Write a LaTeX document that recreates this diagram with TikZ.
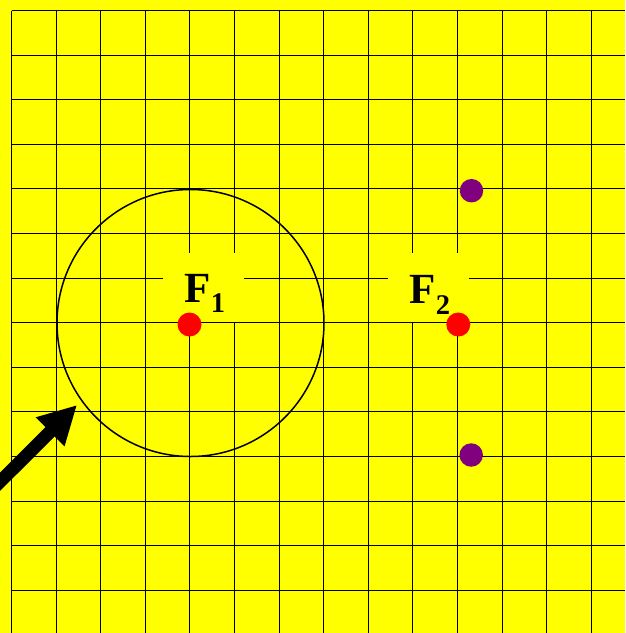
\documentclass[tikz,border=0pt]{standalone}
\usepackage{fontspec}
\setmainfont{Liberation Serif}
\definecolor{bgyellow}{RGB}{255,255,0}
\definecolor{focusred}{RGB}{255,0,0}
\definecolor{vpurple}{RGB}{128,0,128}
\begin{document}
\begin{tikzpicture}[x=1pt,y=-1pt,
  gridline/.style={black,line width=1pt},
  labelbox/.style={fill=bgyellow},
  focus/.style={circle,fill=focusred,inner sep=0pt,minimum size=24pt},
  vertexdot/.style={circle,fill=vpurple,inner sep=0pt,minimum size=23.5pt},
  flabel/.style={inner sep=0pt,anchor=base west,font=\fontsize{43}{43}\selectfont\bfseries},
  bigarrow/.style={line width=13pt,-{Triangle[length=38pt,width=38pt]}}
]
\usetikzlibrary{arrows.meta}
\useasboundingbox (0,0) rectangle (625,633);
\fill[bgyellow] (0,0) rectangle (625,633);
\begin{scope}
\clip (0,0) rectangle (625,633);
% grid
\foreach \i in {0,...,13} {
  \draw[gridline] ({11.5+44.6*\i},10.5) -- ({11.5+44.6*\i},633);
  \draw[gridline] (11.5,{10.5+44.6*\i}) -- (625,{10.5+44.6*\i});
}
% label backgrounds
\fill[labelbox] (163,253) rectangle (244,321.8);
\fill[labelbox] (388,253) rectangle (469,322);
% circle
\node[draw,circle,line width=1.5pt,inner sep=0pt,minimum size=267pt] (C) at (190.5,323) {};
% foci
\node[focus] (P1) at (189.5,324.5) {};
\node[focus] (P2) at (458.3,324.5) {};
% vertices
\node[vertexdot] (V1) at (471.5,190.7) {};
\node[vertexdot] (V2) at (471.2,455) {};
% labels
\node[flabel] (F1) at (184.3,302.5) {F\raisebox{-10pt}{\fontsize{28.5}{28.5}\selectfont 1}};
\node[flabel] (F2) at (409.3,303) {F\raisebox{-11pt}{\fontsize{28.5}{28.5}\selectfont 2}};
% arrow
\coordinate (A0) at (-20,501.7);
\coordinate (A1) at (77,405);
\draw[bigarrow] (A0) -- (A1);
\end{scope}
\end{tikzpicture}
\end{document}
